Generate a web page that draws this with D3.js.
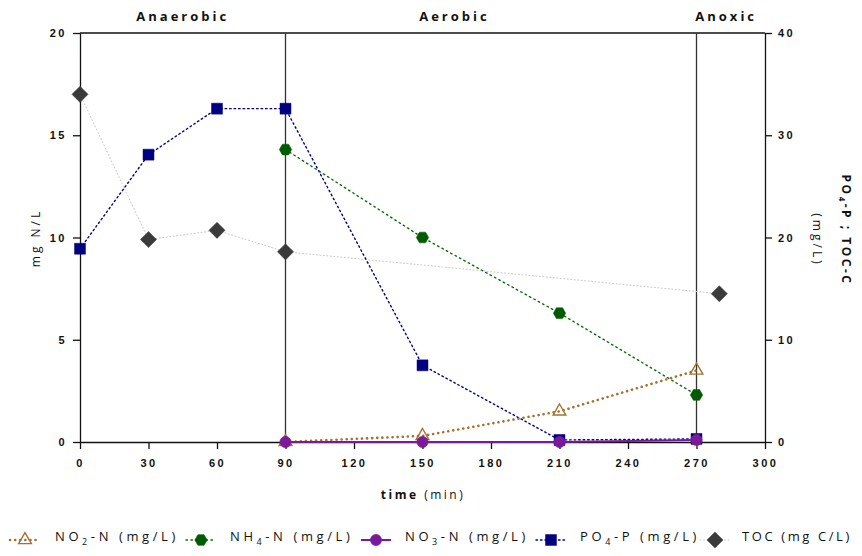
<!DOCTYPE html>
<html><head><meta charset="utf-8">
<script src="https://cdn.jsdelivr.net/npm/d3@7"></script>
<style>body{margin:0;background:#fff}svg{display:block;font-family:"Open Sans",sans-serif}</style>
</head><body><svg id="c" width="862" height="556"></svg>
<script>
const xTicks=[0,30,60,90,120,150,180,210,240,270,300];
const yLeftTicks=[0,5,10,15,20];
const yRightTicks=[0,10,20,30,40];
const phases=[{name:"Anaerobic",at:45},{name:"Aerobic",at:164},{name:"Anoxic",at:283}];
const phaseBounds=[90,270];
const no2T=[90,150,210,270], no2V=[0,0.3,1.5,3.5];
const nh4T=[90,150,210,270], nh4V=[14.3,10,6.3,2.3];
const no3T=[90,150,210,270], no3V=[0,0,0,0.1];
const po4T=[0,30,60,90,150,210,270], po4V=[18.9,28.1,32.6,32.6,7.5,0.2,0.3];
const tocT=[0,30,60,90,280], tocV=[34,19.8,20.7,18.6,14.5];

const svg=d3.select("#c");
const L=80,R=765,T=33,B=442;
const x=d3.scaleLinear().domain([0,300]).range([L,R]);
const yl=d3.scaleLinear().domain([0,20]).range([B,T]);
const yr=d3.scaleLinear().domain([0,40]).range([B,T]);
const tickStyle=g=>{g.selectAll("text").attr("font-weight","bold").attr("font-size",11).attr("letter-spacing","2.5px").attr("fill","#111");g.selectAll("line,path").attr("stroke","#111").attr("stroke-width",1.3);};

// custom symbols
const hexagon={draw(ctx,size){const r=Math.sqrt(size/2.6);for(let i=0;i<6;i++){const a=Math.PI/3*i;const px=r*Math.cos(a),py=r*Math.sin(a);i?ctx.lineTo(px,py):ctx.moveTo(px,py);}ctx.closePath();}};
const diamond={draw(ctx,size){const r=Math.sqrt(size/2);ctx.moveTo(0,-r);ctx.lineTo(r,0);ctx.lineTo(0,r);ctx.lineTo(-r,0);ctx.closePath();}};

// frame
svg.append("line").attr("x1",L).attr("x2",R).attr("y1",T).attr("y2",T).attr("stroke","#111").attr("stroke-width",1.3);
phaseBounds.forEach(p=>svg.append("line").attr("x1",x(p)).attr("x2",x(p)).attr("y1",T).attr("y2",B).attr("stroke","#333").attr("stroke-width",1.3));

svg.append("g").attr("transform",`translate(0,${B})`).call(d3.axisBottom(x).tickValues(xTicks).tickSize(7).tickSizeOuter(0).tickPadding(10)).call(tickStyle);
svg.append("g").attr("transform",`translate(${L},0)`).call(d3.axisLeft(yl).tickValues(yLeftTicks).tickSize(7).tickSizeOuter(0).tickPadding(6)).call(tickStyle);
svg.append("g").attr("transform",`translate(${R},0)`).call(d3.axisRight(yr).tickValues(yRightTicks).tickSize(7).tickSizeOuter(0).tickPadding(6)).call(tickStyle);

// phase labels
phases.forEach(p=>{
  svg.append("text").attr("x",x(p.at)).attr("y",21).attr("text-anchor","middle").attr("font-weight","bold").attr("font-size",13).attr("letter-spacing","3px").attr("fill","#111").text(p.name);
});

// axis titles
const xt=svg.append("text").attr("x",423).attr("y",499).attr("text-anchor","middle").attr("font-size",12).attr("letter-spacing","2.5px").attr("fill","#111");
xt.append("tspan").attr("font-weight","bold").text("time");
xt.append("tspan").text(" (min)");
svg.append("text").attr("transform","translate(40,238) rotate(-90)").attr("text-anchor","middle").attr("font-size",12).attr("letter-spacing","3px").attr("fill","#111").text("mg N/L");
const rt=svg.append("text").attr("transform","translate(842,230) rotate(90)").attr("text-anchor","middle").attr("font-size",12).attr("font-weight","bold").attr("letter-spacing","2.5px").attr("fill","#111");
rt.append("tspan").text("PO");rt.append("tspan").attr("font-size",8).attr("dy",3).text("4");rt.append("tspan").attr("dy",-3).text("-P ; TOC-C");
svg.append("text").attr("transform","translate(813,240) rotate(90)").attr("text-anchor","middle").attr("font-size",12).attr("letter-spacing","3px").attr("fill","#111").text("(mg/L)");

const series=[
 {t:tocT,v:tocV,y:yr,color:"#c8c8c8",mcolor:"#3a3a3a",dash:"1,2.5",w:1,sym:diamond,size:130,fill:true},
 {t:po4T,v:po4V,y:yr,color:"#000080",mcolor:"#000080",dash:"1.5,3",w:1.4,sym:d3.symbolSquare,size:120,fill:true},
 {t:nh4T,v:nh4V,y:yl,color:"#0a6a0a",mcolor:"#005a00",dash:"1.5,3.5",w:1.4,sym:hexagon,size:100,fill:true},
 {t:no2T,v:no2V,y:yl,color:"#a5712f",mcolor:"#a5712f",dash:"0.1,5",w:2.6,sym:d3.symbolTriangle,size:70,fill:false},
 {t:no3T,v:no3V,y:yl,color:"#7a1a9a",mcolor:"#7a1a9a",dash:null,w:2,sym:d3.symbolCircle,size:100,fill:true}
];
series.forEach(s=>{
  const pts=s.t.map((t,i)=>[t,s.v[i]]);
  const line=d3.line().x(d=>x(d[0])).y(d=>s.y(d[1]));
  const p=svg.append("path").attr("d",line(pts)).attr("fill","none").attr("stroke",s.color).attr("stroke-width",s.w);
  if(s.dash)p.attr("stroke-dasharray",s.dash).attr("stroke-linecap","round");
  svg.append("g").selectAll("path").data(pts).join("path")
   .attr("transform",d=>`translate(${x(d[0])},${s.y(d[1])})`)
   .attr("d",d3.symbol().type(s.sym).size(s.size)())
   .attr("fill",s.fill?s.mcolor:"none").attr("stroke",s.mcolor).attr("stroke-width",s.fill?0.5:1.4);
});

// legend
const leg=[
 {s:series[3],x:10,tx:55,ls:3.6,label:[["NO"],["2","sub"],["-N (mg/L)"]]},
 {s:series[2],x:186,tx:230,ls:3.6,label:[["NH"],["4","sub"],["-N (mg/L)"]]},
 {s:series[4],x:361,tx:405,ls:3.6,label:[["NO"],["3","sub"],["-N (mg/L)"]]},
 {s:series[1],x:536,tx:580,ls:3.6,label:[["PO"],["4","sub"],["-P (mg/L)"]]},
 {s:series[0],x:700,tx:742,ls:2.6,label:[["TOC (mg C/L)"]]}
];
const LY=540;
leg.forEach(l=>{
  const s=l.s;
  const p=svg.append("line").attr("x1",l.x).attr("x2",l.x+30).attr("y1",LY).attr("y2",LY).attr("stroke",s.color).attr("stroke-width",s.w);
  if(s.dash)p.attr("stroke-dasharray",s.dash).attr("stroke-linecap","round");
  svg.append("path").attr("transform",`translate(${l.x+15},${LY})`).attr("d",d3.symbol().type(s.sym).size(s.size)())
   .attr("fill",s.fill?s.mcolor:"none").attr("stroke",s.mcolor).attr("stroke-width",s.fill?0.5:1.4);
  const t=svg.append("text").attr("x",l.tx).attr("y",LY+5).attr("font-size",13).attr("letter-spacing",l.ls+"px").attr("fill","#111");
  l.label.forEach(([txt,k])=>{
    if(k==="sub") t.append("tspan").attr("font-size",9).attr("dy",4).text(txt);
    else t.append("tspan").attr("dy",t.selectAll("tspan").size()? -4:0).text(txt);
  });
});
</script></body></html>
